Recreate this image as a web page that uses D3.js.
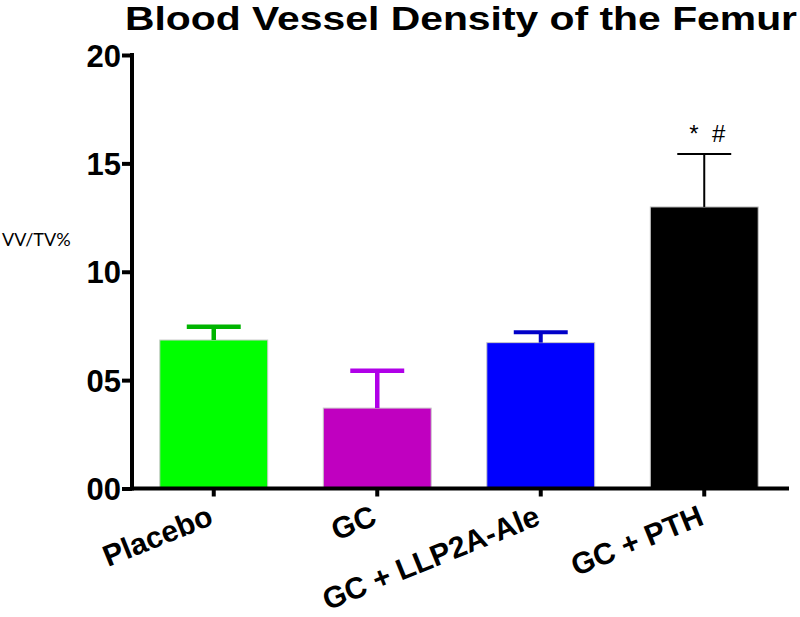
<!DOCTYPE html>
<html><head><meta charset="utf-8">
<script src="https://cdn.jsdelivr.net/npm/d3@7"></script>
<style>html,body{margin:0;padding:0;background:#fff;}</style>
</head><body>
<svg id="chart" width="800" height="617"></svg>
<script>
const categories = ["Placebo", "GC", "GC + LLP2A-Ale", "GC + PTH"];
const means = [6.85, 3.71, 6.73, 12.99];
const errors = [0.61, 1.72, 0.48, 2.44];
const barColors = ["#00ff00", "#c000c0", "#0000ff", "#000000"];
const errColors = ["#00b400", "#b000e8", "#0000c8", "#000000"];
const errWidths = [4.5, 4.5, 4, 2];
const yTicks = [0, 5, 10, 15, 20];
const annotations = ["", "", "", "*  #"];

const svg = d3.select("#chart");
const x = d3.scaleBand().domain(categories).range([132, 786]).paddingInner(0.34).paddingOuter(0.17);
const y = d3.scaleLinear().domain([0, 20]).range([488.5, 55]);

// bars
svg.selectAll("rect.bar").data(categories).join("rect")
  .attr("class", "bar")
  .attr("x", d => x(d)).attr("width", x.bandwidth())
  .attr("y", (d, i) => y(means[i])).attr("height", (d, i) => y(0) - y(means[i]))
  .attr("fill", (d, i) => barColors[i])
  .attr("stroke", "#c8c8c8").attr("stroke-width", 1);

// error bars
const capHalf = x.bandwidth() * 0.25;
categories.forEach((c, i) => {
  const cx = x(c) + x.bandwidth() / 2;
  svg.append("line").attr("x1", cx).attr("x2", cx)
    .attr("y1", y(means[i])).attr("y2", y(means[i] + errors[i]))
    .attr("stroke", errColors[i]).attr("stroke-width", errWidths[i]);
  svg.append("line").attr("x1", cx - capHalf).attr("x2", cx + capHalf)
    .attr("y1", y(means[i] + errors[i])).attr("y2", y(means[i] + errors[i]))
    .attr("stroke", errColors[i]).attr("stroke-width", errWidths[i]);
  if (annotations[i]) {
    svg.append("text").attr("x", cx + 3).attr("y", y(means[i] + errors[i]) - 12)
      .attr("text-anchor", "middle").attr("font-family", "Liberation Sans, Arial, sans-serif")
      .attr("xml:space", "preserve").style("white-space", "pre")
      .attr("font-size", 24).attr("fill", "#000").text(annotations[i]);
  }
});

// y axis
const yAxis = d3.axisLeft(y).tickValues(yTicks).tickFormat(d3.format("02d")).tickSize(10).tickPadding(1);
const gy = svg.append("g").attr("transform", "translate(132,0)").call(yAxis);
gy.select(".domain").attr("stroke", "#000").attr("stroke-width", 4).attr("d", "M0,53V490.5");
gy.selectAll(".tick line").attr("stroke", "#000").attr("stroke-width", 4);
gy.selectAll(".tick text").attr("font-family", "Liberation Sans, Arial, sans-serif")
  .attr("font-weight", "bold").attr("font-size", 31).attr("fill", "#000").attr("dy", "0.36em");

// x axis
const xAxis = d3.axisBottom(x).tickSize(8).tickFormat("");
const gx = svg.append("g").attr("transform", "translate(0,488.5)").call(xAxis);
gx.select(".domain").attr("stroke", "#000").attr("stroke-width", 4).attr("d", "M130,0H789");
gx.selectAll(".tick line").attr("stroke", "#000").attr("stroke-width", 4);

// x labels
svg.selectAll("text.xlab").data(categories).join("text")
  .attr("class", "xlab")
  .attr("transform", d => `translate(${x(d) + x.bandwidth() / 2 + 1},${524}) rotate(-22)`)
  .attr("text-anchor", "end")
  .attr("font-family", "Liberation Sans, Arial, sans-serif")
  .attr("font-weight", "bold").attr("font-size", 30).attr("fill", "#000")
  .text(d => d);

// title
svg.append("text").attr("x", 125).attr("y", 30)
  .attr("font-family", "Liberation Sans, Arial, sans-serif")
  .attr("font-weight", "bold").attr("font-size", 33).attr("fill", "#000")
  .attr("textLength", 672).attr("lengthAdjust", "spacingAndGlyphs")
  .text("Blood Vessel Density of the Femur");

// y label
svg.append("text").attr("x", 2).attr("y", 246)
  .attr("font-family", "Lato, Open Sans, sans-serif")
  .attr("font-size", 18).attr("fill", "#000")
  .text("VV/TV%");
</script>
</body></html>
